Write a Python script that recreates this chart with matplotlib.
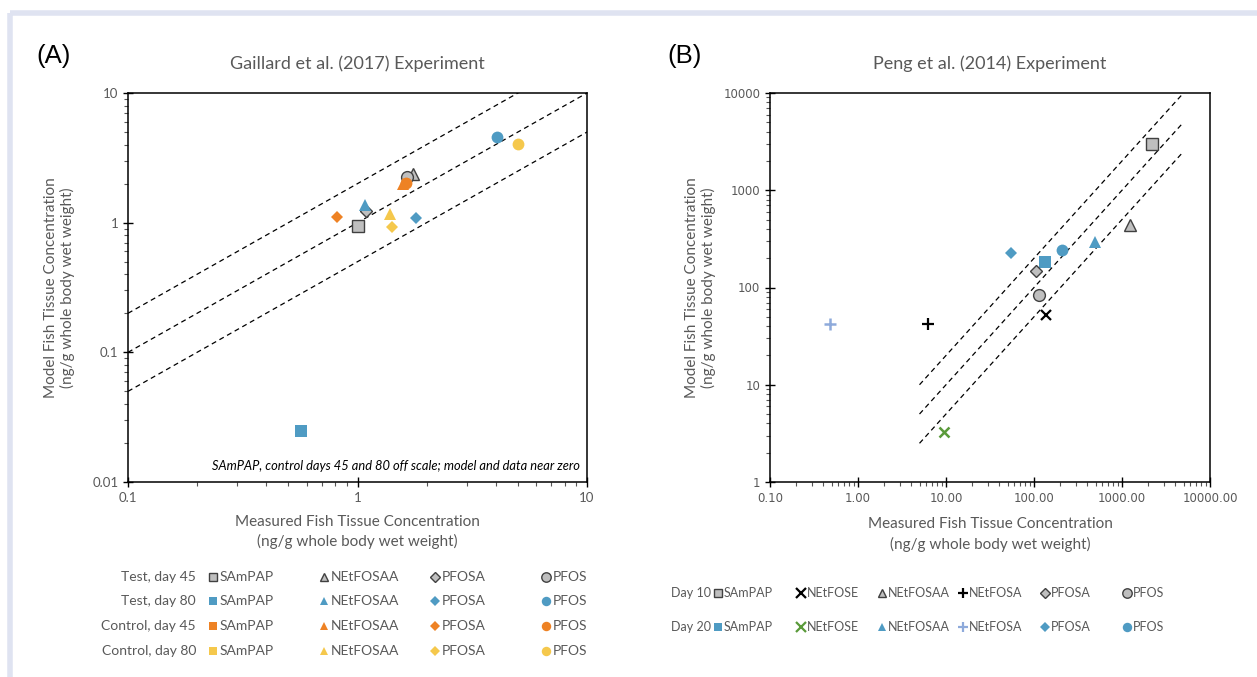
import numpy as np
import matplotlib
matplotlib.use("Agg")
import matplotlib.pyplot as plt
from matplotlib.ticker import FixedLocator, FuncFormatter, LogLocator, NullFormatter
from matplotlib.patches import Rectangle

plt.rcParams['font.family'] = ['Lato', 'DejaVu Sans']

# ---- Panel A data: Gaillard et al. (2017) ----
chem_a = ['SAmPAP', 'NEtFOSAA', 'PFOSA', 'PFOS']
groups_a = ['Test, day 45', 'Test, day 80', 'Control, day 45', 'Control, day 80']
test45_x = [1.00, 1.74, 1.09, 1.65]
test45_y = [0.95, 2.37, 1.24, 2.26]
test80_x = [0.57, 1.08, 1.80, 4.05]
test80_y = [0.0246, 1.38, 1.09, 4.55]
ctl45_x = [np.nan, 1.58, 0.815, 1.63]
ctl45_y = [np.nan, 2.00, 1.10, 2.03]
ctl80_x = [np.nan, 1.39, 1.41, 5.00]
ctl80_y = [np.nan, 1.17, 0.93, 4.04]

# ---- Panel B data: Peng et al. (2014) ----
chem_b = ['SAmPAP', 'NEtFOSE', 'NEtFOSAA', 'NEtFOSA', 'PFOSA', 'PFOS']
groups_b = ['Day 10', 'Day 20']
day10_x = [2170, 137, 1230, 6.24, 105, 113]
day10_y = [2990, 52, 435, 42.5, 149, 84]
day20_x = [133, 9.4, 490, 0.485, 55, 210]
day20_y = [184, 3.27, 296, 42.2, 226, 243]

ratio_lines = [2.0, 1.0, 0.5]

GRAY = '#bfbfbf'
EDGE = '#404040'
BLUE = '#4f9bc3'
ORANGE = '#ee8224'
YELLOW = '#f5c84c'
GREEN = '#5a9a3a'
LBLUE = '#8eaadb'
TXT = '#595959'

mk_a = ['s', '^', 'D', 'o']
sz_a = [8, 8, 6, 8.5]
style_a = [
    dict(mfc=GRAY, mec=EDGE, mew=1.0),
    dict(mfc=BLUE, mec=BLUE, mew=0),
    dict(mfc=ORANGE, mec=ORANGE, mew=0),
    dict(mfc=YELLOW, mec=YELLOW, mew=0),
]

mk_b = ['s', 'x', '^', '+', 'D', 'o']
sz_b = [8, 7, 8, 8, 6, 8.5]

fig = plt.figure(figsize=(12.57, 6.77), dpi=100)
W, H = 1257, 677

# light border frame
ov = fig.add_axes([0, 0, 1, 1], zorder=-5)
ov.set_xlim(0, W)
ov.set_ylim(H, 0)
ov.axis('off')
ov.add_patch(Rectangle((10, 13), W, H, fill=False, ec='#dfe3f1', lw=4))

axA = fig.add_axes([128 / W, 1 - 482 / H, 459 / W, 389 / H])
axB = fig.add_axes([770 / W, 1 - 482 / H, 440 / W, 389 / H])

xlab = 'Measured Fish Tissue Concentration\n(ng/g whole body wet weight)'
ylab = 'Model Fish Tissue Concentration\n(ng/g whole body wet weight)'

# ---- Panel A ----
xs = np.array([0.1, 10])
for r in ratio_lines:
    axA.plot(xs, xs * r, ls=(0, (4, 3)), color='black', lw=0.9, zorder=1)
for gx, gy, st in zip([test45_x, test80_x, ctl45_x, ctl80_x],
                      [test45_y, test80_y, ctl45_y, ctl80_y], style_a):
    for i in range(4):
        axA.plot(gx[i], gy[i], ls='none', marker=mk_a[i], ms=sz_a[i], zorder=3, **st)
axA.set_xscale('log')
axA.set_yscale('log')
axA.set_xlim(0.1, 10)
axA.set_ylim(0.01, 10)
axA.xaxis.set_major_locator(FixedLocator([0.1, 1, 10]))
axA.yaxis.set_major_locator(FixedLocator([0.01, 0.1, 1, 10]))
axA.xaxis.set_major_formatter(FuncFormatter(lambda v, p: '%g' % v))
axA.yaxis.set_major_formatter(FuncFormatter(lambda v, p: '%g' % v))
axA.text(0.985, 0.04, 'SAmPAP, control days 45 and 80 off scale; model and data near zero',
         transform=axA.transAxes, ha='right', va='center', fontsize=9.3,
         style='italic', color='black')
axA.set_title('Gaillard et al. (2017) Experiment', fontsize=13, color=TXT, pad=17)
axA.set_xlabel(xlab, fontsize=11, color=TXT, labelpad=8, linespacing=1.45)
axA.set_ylabel(ylab, fontsize=11, color=TXT, labelpad=12)

# ---- Panel B ----
xb = np.array([5, 5000])
for r in ratio_lines:
    axB.plot(xb, xb * r, ls=(0, (4, 3)), color='black', lw=0.9, zorder=1)
for i in range(6):
    if mk_b[i] in ('x', '+'):
        axB.plot(day10_x[i], day10_y[i], ls='none', marker=mk_b[i], ms=sz_b[i],
                 mec='black', mew=1.6, zorder=3)
        c2 = GREEN if mk_b[i] == 'x' else LBLUE
        axB.plot(day20_x[i], day20_y[i], ls='none', marker=mk_b[i], ms=sz_b[i],
                 mec=c2, mew=1.8, zorder=3)
    else:
        axB.plot(day10_x[i], day10_y[i], ls='none', marker=mk_b[i], ms=sz_b[i],
                 mfc=GRAY, mec=EDGE, mew=1.0, zorder=3)
        axB.plot(day20_x[i], day20_y[i], ls='none', marker=mk_b[i], ms=sz_b[i],
                 mfc=BLUE, mec=BLUE, mew=0, zorder=3)
axB.set_xscale('log')
axB.set_yscale('log')
axB.set_xlim(0.1, 10000)
axB.set_ylim(1, 10000)
axB.xaxis.set_major_locator(FixedLocator([0.1, 1, 10, 100, 1000, 10000]))
axB.yaxis.set_major_locator(FixedLocator([1, 10, 100, 1000, 10000]))
axB.xaxis.set_major_formatter(FuncFormatter(lambda v, p: '%.2f' % v))
axB.yaxis.set_major_formatter(FuncFormatter(lambda v, p: '%g' % v))
axB.set_title('Peng et al. (2014) Experiment', fontsize=13, color=TXT, pad=17)
axB.set_xlabel(xlab, fontsize=11, color=TXT, labelpad=9, linespacing=1.45)
axB.set_ylabel(ylab, fontsize=11, color=TXT, labelpad=5)

for ax in (axA, axB):
    for s in ax.spines.values():
        s.set_color('black')
        s.set_linewidth(1.1)
    ax.xaxis.set_minor_locator(LogLocator(base=10, subs=np.arange(2, 10)))
    ax.yaxis.set_minor_locator(LogLocator(base=10, subs=np.arange(2, 10)))
    ax.xaxis.set_minor_formatter(NullFormatter())
    ax.yaxis.set_minor_formatter(NullFormatter())
    ax.tick_params(which='major', direction='inout', length=7, width=1, color='black',
                   labelcolor=TXT, labelsize=9.5)
    ax.tick_params(which='minor', direction='out', length=3, width=0.8, color='#555555')
for lab in axB.get_xticklabels() + axB.get_yticklabels():
    lab.set_fontfamily('DejaVu Sans')
    lab.set_fontsize(8.5)

# panel letters
fig.text(36 / W, 1 - 56 / H, '(A)', fontsize=18.5, family='Liberation Sans', va='center')
fig.text(667 / W, 1 - 56 / H, '(B)', fontsize=18.5, family='Liberation Sans', va='center')

# ---- legend table A ----
rows_a = [577, 601, 626, 651]
mx_a = [213, 324, 435, 546]
for g, y, st in zip(groups_a, rows_a, style_a):
    ov.text(196, y, g, ha='right', va='center', fontsize=10, color=TXT)
    for i in range(4):
        ov.plot(mx_a[i], y, ls='none', marker=mk_a[i], ms=sz_a[i] * 0.8, **st)
        ov.text(mx_a[i] + 7, y, chem_a[i], ha='left', va='center', fontsize=10, color=TXT)

# ---- legend table B ----
rows_b = [593, 627]
mx_b = [718, 801, 882, 963, 1045, 1127]
for j, (g, y) in enumerate(zip(groups_b, rows_b)):
    ov.text(671, y, g, ha='left', va='center', fontsize=9, color=TXT)
    for i in range(6):
        if mk_b[i] in ('x', '+'):
            c = 'black' if j == 0 else (GREEN if mk_b[i] == 'x' else LBLUE)
            ov.plot(mx_b[i], y, ls='none', marker=mk_b[i], ms=6.5, mec=c, mew=1.6)
        elif j == 0:
            ov.plot(mx_b[i], y, ls='none', marker=mk_b[i], ms=sz_b[i] * 0.8,
                    mfc=GRAY, mec=EDGE, mew=1.0)
        else:
            ov.plot(mx_b[i], y, ls='none', marker=mk_b[i], ms=sz_b[i] * 0.8,
                    mfc=BLUE, mec=BLUE, mew=0)
        ov.text(mx_b[i] + 6, y, chem_b[i], ha='left', va='center', fontsize=9, color=TXT)

fig.savefig('out.png', dpi=100)
